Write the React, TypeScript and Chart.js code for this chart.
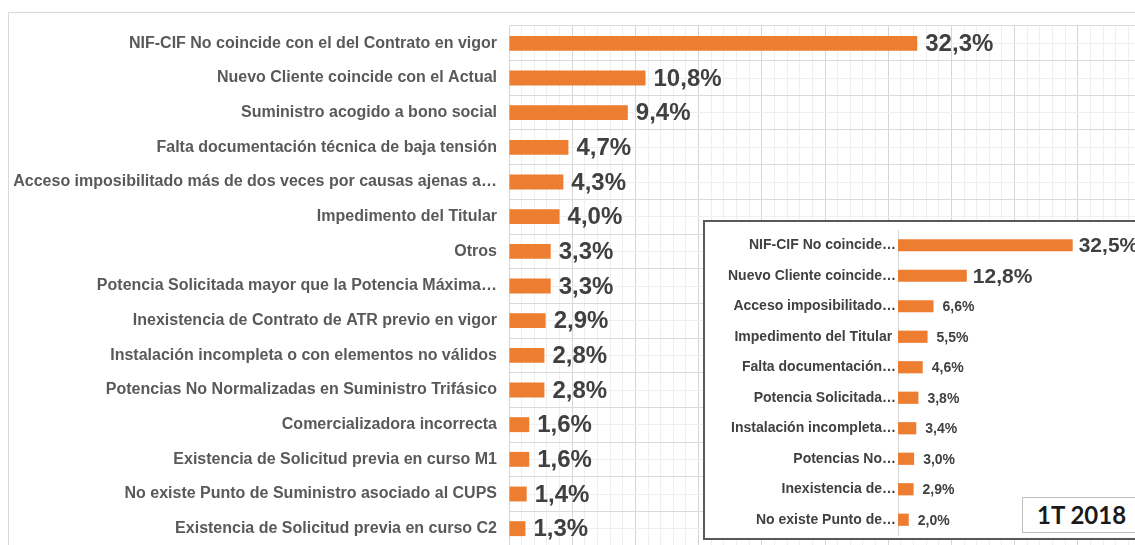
import React, { useEffect, useRef } from "react";
import { Chart, registerables } from "chart.js";

Chart.register(...registerables);

const mainLabels = [
  "NIF-CIF No coincide con el del Contrato en vigor",
  "Nuevo Cliente coincide con el Actual",
  "Suministro acogido a bono social",
  "Falta documentación técnica de baja tensión",
  "Acceso imposibilitado más de dos veces por causas ajenas a…",
  "Impedimento del Titular",
  "Otros",
  "Potencia Solicitada mayor que la Potencia Máxima…",
  "Inexistencia de Contrato de ATR previo en vigor",
  "Instalación incompleta o con elementos no válidos",
  "Potencias No Normalizadas en Suministro Trifásico",
  "Comercializadora incorrecta",
  "Existencia de Solicitud previa en curso M1",
  "No existe Punto de Suministro asociado al CUPS",
  "Existencia de Solicitud previa en curso C2",
];
const mainValues = [32.3, 10.8, 9.4, 4.7, 4.3, 4.0, 3.3, 3.3, 2.9, 2.8, 2.8, 1.6, 1.6, 1.4, 1.3];

const insetLabels = [
  "NIF-CIF No coincide…",
  "Nuevo Cliente coincide…",
  "Acceso imposibilitado…",
  "Impedimento del Titular ",
  "Falta documentación…",
  "Potencia Solicitada…",
  "Instalación incompleta…",
  "Potencias No…",
  "Inexistencia de…",
  "No existe Punto de…",
];
const insetValues = [32.5, 12.8, 6.6, 5.5, 4.6, 3.8, 3.4, 3.0, 2.9, 2.0];

const insetTitle = "1T 2018";
const mainAxisMax = 50;
const insetAxisMax = 40;

const ORANGE = "#ED7D31";
const FONT = '"Liberation Sans", Arial, sans-serif';

const fmt = (v: number) => v.toFixed(1).replace(".", ",") + "%";

const valueLabelPlugin = {
  id: "valueLabels",
  afterDatasetsDraw(chart: any, _args: any, opts: any) {
    const ctx = chart.ctx;
    const meta = chart.getDatasetMeta(0);
    const data = chart.data.datasets[0].data;
    ctx.save();
    meta.data.forEach((bar: any, i: number) => {
      const v = data[i] as number;
      const size = v >= opts.threshold ? opts.bigSize : opts.smallSize;
      const off = v >= opts.threshold ? opts.bigOffset : opts.smallOffset;
      ctx.font = `bold ${size}px ${FONT}`;
      ctx.fillStyle = opts.color;
      ctx.textAlign = "left";
      ctx.textBaseline = "middle";
      ctx.fillText(fmt(v), bar.x + off, bar.y + 1);
    });
    ctx.restore();
  },
};

function MainChart() {
  const ref = useRef<HTMLCanvasElement>(null);
  useEffect(() => {
    const chart = new Chart(ref.current!, {
      type: "bar",
      data: {
        labels: mainLabels,
        datasets: [
          {
            data: mainValues,
            backgroundColor: ORANGE,
            borderWidth: 0,
            categoryPercentage: 1,
            barPercentage: 0.43,
          },
        ],
      },
      options: {
        indexAxis: "y",
        animation: false,
        responsive: false,
        maintainAspectRatio: false,
        layout: { padding: { top: 13, right: 0, bottom: 0, left: 0 } },
        plugins: {
          legend: { display: false },
          tooltip: { enabled: false },
          valueLabels: {
            threshold: 0,
            bigSize: 24,
            smallSize: 24,
            bigOffset: 8,
            smallOffset: 8,
            color: "#404040",
          },
        } as any,
        scales: {
          x: {
            type: "linear",
            min: 0,
            max: mainAxisMax,
            ticks: { display: false, stepSize: 1 },
            grid: {
              drawTicks: false,
              color: (c: any) => (c.tick && Math.round(c.tick.value) % 5 === 0 ? "#d6d6d6" : "#efefef"),
            },
            border: { display: false },
            afterFit: (s: any) => {
              s.height = 0;
              s.paddingLeft = 0;
              s.paddingRight = 0;
            },
          },
          y: {
            type: "category",
            offset: true,
            grid: { offset: true, drawTicks: false, color: "#dadada" },
            border: { display: true, color: "#d6d6d6" },
            ticks: {
              padding: 12,
              color: "#595959",
              font: { family: FONT, size: 16, weight: "bold" },
            },
            afterFit: (s: any) => {
              s.width = 501;
              s.paddingTop = 0;
              s.paddingBottom = 0;
            },
          },
          y2: {
            type: "category",
            labels: mainLabels,
            position: "left",
            offset: true,
            grid: { offset: false, drawTicks: false, color: "#efefef" },
            border: { display: false },
            ticks: { display: false },
            afterFit: (s: any) => {
              s.width = 0;
              s.paddingTop = 0;
              s.paddingBottom = 0;
            },
          },
        } as any,
      },
      plugins: [valueLabelPlugin],
    });
    return () => chart.destroy();
  }, []);
  return (
    <canvas
      ref={ref}
      width={1133}
      height={533}
      style={{ position: "absolute", left: 8, top: 13, width: 1133, height: 533 }}
    />
  );
}

function InsetChart() {
  const ref = useRef<HTMLCanvasElement>(null);
  useEffect(() => {
    const chart = new Chart(ref.current!, {
      type: "bar",
      data: {
        labels: insetLabels,
        datasets: [
          {
            data: insetValues,
            backgroundColor: ORANGE,
            borderWidth: 0,
            categoryPercentage: 1,
            barPercentage: 0.4,
          },
        ],
      },
      options: {
        indexAxis: "y",
        animation: false,
        responsive: false,
        maintainAspectRatio: false,
        layout: { padding: { top: 8, right: 32, bottom: 3, left: 0 } },
        plugins: {
          legend: { display: false },
          tooltip: { enabled: false },
          valueLabels: {
            threshold: 10,
            bigSize: 21,
            smallSize: 14,
            bigOffset: 6,
            smallOffset: 9,
            color: "#404040",
          },
        } as any,
        scales: {
          x: { type: "linear", min: 0, max: insetAxisMax, display: false },
          y: {
            type: "category",
            offset: true,
            grid: { display: false, drawTicks: false },
            border: { display: true, color: "#d9d9d9" },
            ticks: {
              padding: 2,
              color: "#404040",
              font: { family: FONT, size: 14, weight: "bold" },
            },
            afterFit: (s: any) => {
              s.width = 193;
              s.paddingTop = 0;
              s.paddingBottom = 0;
            },
          },
        } as any,
      },
      plugins: [valueLabelPlugin],
    });
    return () => chart.destroy();
  }, []);
  return (
    <canvas
      ref={ref}
      width={440}
      height={316}
      style={{ position: "absolute", left: 0, top: 0, width: 440, height: 316 }}
    />
  );
}

export default function App() {
  return (
    <div
      style={{
        position: "fixed",
        left: 0,
        top: 0,
        width: 1135,
        height: 545,
        overflow: "hidden",
        background: "#fff",
      }}
    >
      <div
        style={{
          position: "absolute",
          left: 8,
          top: 12,
          width: 1200,
          height: 600,
          borderTop: "1px solid #d9d9d9",
          borderLeft: "1px solid #d9d9d9",
        }}
      />
      <MainChart />
      <div
        style={{
          position: "absolute",
          left: 703,
          top: 220,
          width: 500,
          height: 320,
          boxSizing: "border-box",
          border: "2px solid #595959",
          background: "#fff",
        }}
      >
        <InsetChart />
      </div>
      <div
        style={{
          position: "absolute",
          left: 1022,
          top: 497,
          width: 130,
          height: 36,
          boxSizing: "border-box",
          border: "1px solid #c0c0c0",
          background: "#fff",
          fontFamily: 'Lato, "Open Sans", sans-serif',
          fontWeight: 700,
          fontSize: 24,
          lineHeight: "34px",
          paddingLeft: 14,
          color: "#1a1a1a",
        }}
      >
        {insetTitle}
      </div>
    </div>
  );
}
